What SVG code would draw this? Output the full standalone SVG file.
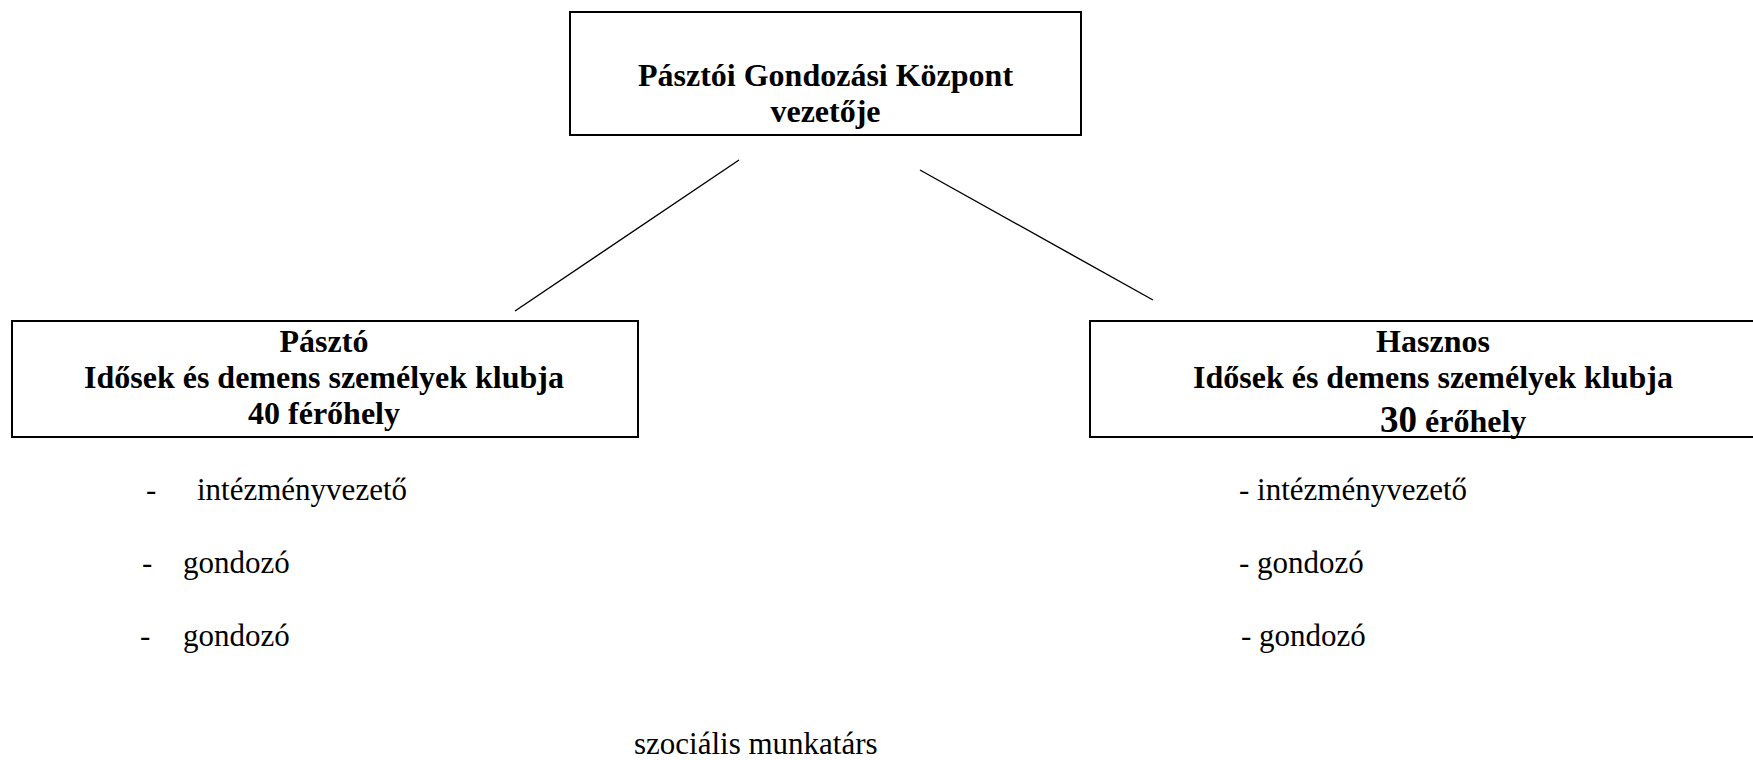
<svg xmlns="http://www.w3.org/2000/svg" width="1753" height="760" viewBox="0 0 1753 760">
<style>
.box{fill:#fff;stroke:#000;stroke-width:2}
.b{font-family:"Liberation Serif","Times New Roman",serif;font-weight:bold;font-size:32px;fill:#000;text-anchor:middle}
.bs{text-anchor:start}
.r{font-family:"Liberation Serif","Times New Roman",serif;font-size:31px;fill:#000}
.ln{stroke:#000;stroke-width:1.4;fill:none}
</style>
<rect width="1753" height="760" fill="#fff"/>
<g id="connectors">
<line class="ln" x1="739" y1="160" x2="515" y2="311"/>
<line class="ln" x1="920" y1="170" x2="1153" y2="300"/>
</g>
<g id="top">
<rect class="box" x="570" y="12" width="511" height="123"/>
<text class="b" x="825.5" y="86">Pásztói Gondozási Központ</text>
<text class="b" x="825.5" y="122">vezetője</text>
</g>
<g id="paszto">
<rect class="box" x="12" y="321" width="626" height="116"/>
<text class="b" x="324" y="352">Pásztó</text>
<text class="b" x="324" y="388">Idősek és demens személyek klubja</text>
<text class="b" x="324" y="424">40 férőhely</text>
</g>
<g id="hasznos">
<rect class="box" x="1090" y="321" width="690" height="116"/>
<text class="b" x="1433" y="352">Hasznos</text>
<text class="b" x="1433" y="388">Idősek és demens személyek klubja</text>
<text class="b bs" x="1380" y="432"><tspan font-size="37">30</tspan> érőhely</text>
</g>
<g id="paszto-staff">
<text class="r" x="146" y="500">-</text>
<text class="r" x="197" y="500">intézményvezető</text>
<text class="r" x="142" y="573">-</text>
<text class="r" x="183" y="573">gondozó</text>
<text class="r" x="140" y="646">-</text>
<text class="r" x="183" y="646">gondozó</text>
</g>
<g id="hasznos-staff">
<text class="r" x="1239" y="500">- intézményvezető</text>
<text class="r" x="1239" y="573">- gondozó</text>
<text class="r" x="1241" y="646">- gondozó</text>
</g>
<g id="social">
<text class="r" x="634" y="754">szociális munkatárs</text>
</g>
</svg>
